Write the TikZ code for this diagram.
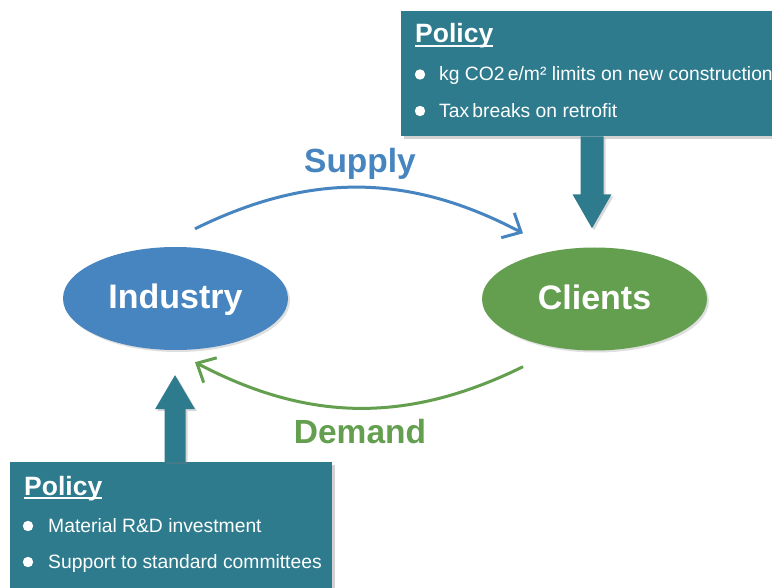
\documentclass[tikz,border=0pt]{standalone}
\usepackage{fontspec}
\setmainfont{Liberation Sans}
\usetikzlibrary{arrows.meta,shadows,shapes.geometric,calc}
\definecolor{policyc}{HTML}{2E7B8E}
\definecolor{indblue}{HTML}{4685BF}
\definecolor{cligreen}{HTML}{639F4E}
\newcommand\myul[1]{\setbox0=\hbox{#1}\leavevmode\rlap{\rule[-4pt]{\wd0}{2pt}}\box0}
\begin{document}
\begin{tikzpicture}[x=1pt,y=-1pt,
  oval/.style={ellipse, minimum width=225pt, minimum height=103pt, inner sep=0pt,
    text=white, font=\bfseries\fontsize{34}{36}\selectfont, text height=21pt, text depth=0pt,
    drop shadow={shadow xshift=2pt, shadow yshift=-2pt, opacity=.25}},
  policybox/.style={fill=policyc, inner sep=0pt, anchor=north west,
    drop shadow={shadow xshift=3pt, shadow yshift=-3pt, opacity=.35}},
  ptitle/.style={anchor=base west, inner sep=0pt, text=white, font=\bfseries\fontsize{26.5}{28}\selectfont},
  pitem/.style={anchor=base west, inner sep=0pt, text=white, font=\fontsize{19.3}{21}\selectfont},
  flowlabel/.style={anchor=base, inner sep=0pt, font=\bfseries\fontsize{33.5}{36}\selectfont},
  flow/.style={line width=3pt, -{Straight Barb[length=15pt,width=28pt,line width=3pt]}},
  blockarrow/.style={fill=policyc, drop shadow={shadow xshift=2pt, shadow yshift=-2pt, opacity=.3}}
]
\useasboundingbox (0,0) rectangle (772,588);
\fill[white] (0,0) rectangle (772,588);

% ellipses
\node[oval, fill=indblue] (industry) at (175.5,298.5) {Industry};
\node[oval, fill=cligreen] (clients) at (594.5,299) {Clients};

% policy boxes
\node[policybox, minimum width=420pt, minimum height=125pt] (toppolicy) at (401,11) {};
\node[policybox, minimum width=322pt, minimum height=140pt] (botpolicy) at (10,462) {};

\node[ptitle] (toptitle) at (415,43) {\myul{Policy}};
\fill[white] (420,74.5) circle (5.2);
\node[pitem] (top1) at (439,81) {kg CO2\,e/m² limits on new construction};
\fill[white] (420,111) circle (5.2);
\node[pitem] (top2) at (439,118) {Tax\,breaks on retrofit};

\node[ptitle] (bottitle) at (24,495) {\myul{Policy}};
\fill[white] (28,526) circle (5.2);
\node[pitem] (bot1) at (48,532) {Material R\&D investment};
\fill[white] (28,562) circle (5.2);
\node[pitem] (bot2) at (48,568) {Support to standard committees};

% block arrows
\coordinate (ta) at ($(toppolicy.south west)+(191,0)$);
\coordinate (tb) at ($(clients.north)+(-2.5,-19)$);
\fill[blockarrow] ($(ta)+(-11.5,0)$) -- ($(ta)+(11.5,0)$) -- ($(tb)+(11.5,-34)$) -- ($(tb)+(19.5,-34)$)
  -- (tb) -- ($(tb)+(-19.5,-34)$) -- ($(tb)+(-11.5,-34)$) -- cycle;
\coordinate (ba) at ($(botpolicy.north west)+(165,0)$);
\coordinate (bb) at ($(industry.south)+(-0.5,25)$);
\fill[blockarrow] ($(ba)+(-10.5,0)$) -- ($(ba)+(10.5,0)$) -- ($(bb)+(10.5,34)$) -- ($(bb)+(20,34)$)
  -- (bb) -- ($(bb)+(-20,34)$) -- ($(bb)+(-10.5,34)$) -- cycle;

% flows
\coordinate (s1) at ([xshift=19.5pt,yshift=18pt]industry.north);
\coordinate (s2) at ([xshift=-71.5pt,yshift=14pt]clients.north);
\draw[flow, draw=indblue] (s1) to[bend left=27] (s2);
\coordinate (d1) at ([xshift=-71.5pt,yshift=-16pt]clients.south);
\coordinate (d2) at ([xshift=19.5pt,yshift=-12pt]industry.south);
\draw[flow, draw=cligreen] (d1) to[bend left=27] (d2);

\node[flowlabel, text=indblue] (supply) at (360,173) {Supply};
\node[flowlabel, text=cligreen] (demand) at (360,443) {Demand};
\end{tikzpicture}
\end{document}
